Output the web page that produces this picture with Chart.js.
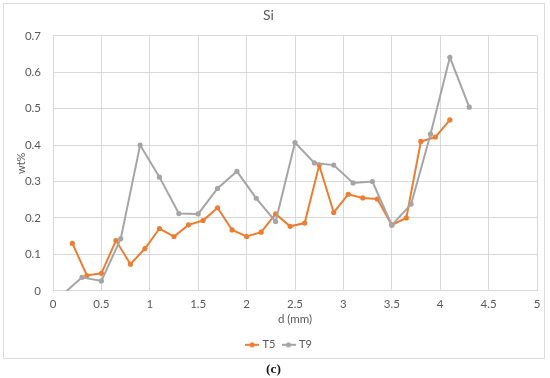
<!DOCTYPE html>
<html><head><meta charset="utf-8">
<script src="https://cdn.jsdelivr.net/npm/chart.js@4"></script>
<style>html,body{margin:0;padding:0;background:#fff}</style>
</head><body>
<canvas id="c" width="550" height="378"></canvas>
<script>
const chartTitle = 'Si';
const xAxisTitle = 'd (mm)';
const yAxisTitle = 'wt%';
const caption = '(c)';
const seriesNames = ['T5', 'T9'];
const t5X = [0.2,0.35,0.5,0.65,0.8,0.95,1.1,1.25,1.4,1.55,1.7,1.85,2.0,2.15,2.3,2.45,2.6,2.75,2.9,3.05,3.2,3.35,3.5,3.65,3.8,3.95,4.1];
const t5Y = [0.130,0.042,0.048,0.138,0.073,0.116,0.171,0.149,0.181,0.193,0.228,0.167,0.149,0.161,0.211,0.177,0.186,0.345,0.215,0.265,0.255,0.252,0.181,0.200,0.410,0.422,0.469];
const t9X = [0.1,0.3,0.5,0.7,0.9,1.1,1.3,1.5,1.7,1.9,2.1,2.3,2.5,2.7,2.9,3.1,3.3,3.5,3.7,3.9,4.1,4.3];
const t9Y = [-0.01,0.037,0.027,0.143,0.400,0.312,0.212,0.211,0.281,0.328,0.254,0.190,0.407,0.351,0.345,0.296,0.300,0.180,0.238,0.430,0.641,0.504];
const xTicks = [0,0.5,1,1.5,2,2.5,3,3.5,4,4.5,5];
const yTicks = [0,0.1,0.2,0.3,0.4,0.5,0.6,0.7];
const colors = ['#ED7D31', '#A5A5A5'];

const toPts = (xs, ys) => xs.map((x, i) => ({x: x, y: ys[i]}));

function legendIcon(color) {
  const c = document.createElement('canvas');
  c.width = 14; c.height = 8;
  const g = c.getContext('2d');
  g.strokeStyle = color; g.lineWidth = 2;
  g.beginPath(); g.moveTo(0, 4); g.lineTo(14, 4); g.stroke();
  g.fillStyle = color;
  g.beginPath(); g.arc(7, 4, 2.6, 0, Math.PI * 2); g.fill();
  return c;
}
const icons = colors.map(legendIcon);

const framePlugin = {
  id: 'frame',
  afterLayout(chart) {
    const lg = chart.legend;
    if (lg) { lg.left += 11; lg.right += 11; }
    const st = chart.boxes.find(b => b.options && b.options.text === caption);
    if (st) { st.left += 5; st.right += 5; }
  },
  beforeDraw(chart) {
    const ctx = chart.ctx;
    ctx.save();
    ctx.fillStyle = '#ffffff';
    ctx.fillRect(0, 0, chart.width, chart.height);
    ctx.strokeStyle = '#dcdcdc';
    ctx.lineWidth = 1;
    ctx.strokeRect(3.5, 3.5, 541, 355);
    ctx.restore();
  }
};

const font = 'Lato';
const txt = '#595959';
const gridC = '#d9d9d9';

new Chart(document.getElementById('c'), {
  type: 'line',
  data: {
    datasets: [
      {label: seriesNames[0], data: toPts(t5X, t5Y), borderColor: colors[0], backgroundColor: colors[0],
       borderWidth: 2, pointRadius: 2.6, pointBorderWidth: 0, pointBackgroundColor: colors[0], order: 2, clip: 0},
      {label: seriesNames[1], data: toPts(t9X, t9Y), borderColor: colors[1], backgroundColor: colors[1],
       borderWidth: 2, pointRadius: 2.6, pointBorderWidth: 0, pointBackgroundColor: colors[1], order: 1, clip: 0}
    ]
  },
  options: {
    responsive: false,
    animation: false,
    layout: {padding: {left: 0, right: 13, top: 0, bottom: 0}},
    scales: {
      x: {
        type: 'linear', min: 0, max: 5,
        afterBuildTicks: s => { s.ticks = xTicks.map(v => ({value: v})); },
        afterFit: s => { s.height = 40.5; },
        ticks: {color: txt, font: {family: font, size: 11.5}, padding: 7, callback: v => String(v), maxRotation: 0, autoSkip: false},
        grid: {color: gridC, drawTicks: false},
        border: {color: gridC},
        title: {display: true, text: xAxisTitle, color: txt, font: {family: font, size: 11.5}, padding: {top: 0, bottom: 5.5}}
      },
      y: {
        type: 'linear', min: 0, max: 0.7,
        afterBuildTicks: s => { s.ticks = yTicks.map(v => ({value: v})); },
        afterFit: s => { s.width = 53; },
        ticks: {color: txt, font: {family: font, size: 11.5}, padding: 12, callback: v => String(Math.round(v * 10) / 10)},
        grid: {color: gridC, drawTicks: false},
        border: {color: gridC},
        title: {display: true, text: yAxisTitle, color: txt, font: {family: font, size: 11}, padding: {top: 14.4, bottom: 0}}
      }
    },
    plugins: {
      title: {display: true, text: chartTitle, color: txt, font: {family: font, size: 14, weight: 'normal'}, padding: {top: 7, bottom: 12}},
      subtitle: {display: true, text: caption, position: 'bottom', color: '#1a1a1a', font: {family: 'Liberation Serif', size: 13.5, weight: 'bold'}, padding: {top: 1.5, bottom: 0}},
      legend: {
        position: 'bottom',
        labels: {
          color: txt, font: {family: font, size: 11}, usePointStyle: true, pointStyleWidth: 10, padding: 8,
          generateLabels: chart => {
            const items = Chart.defaults.plugins.legend.labels.generateLabels(chart);
            items.sort((a, b) => a.datasetIndex - b.datasetIndex);
            items.forEach(it => { it.pointStyle = icons[it.datasetIndex]; });
            return items;
          }
        }
      },
      tooltip: {enabled: false}
    }
  },
  plugins: [framePlugin]
});
</script>
</body></html>
